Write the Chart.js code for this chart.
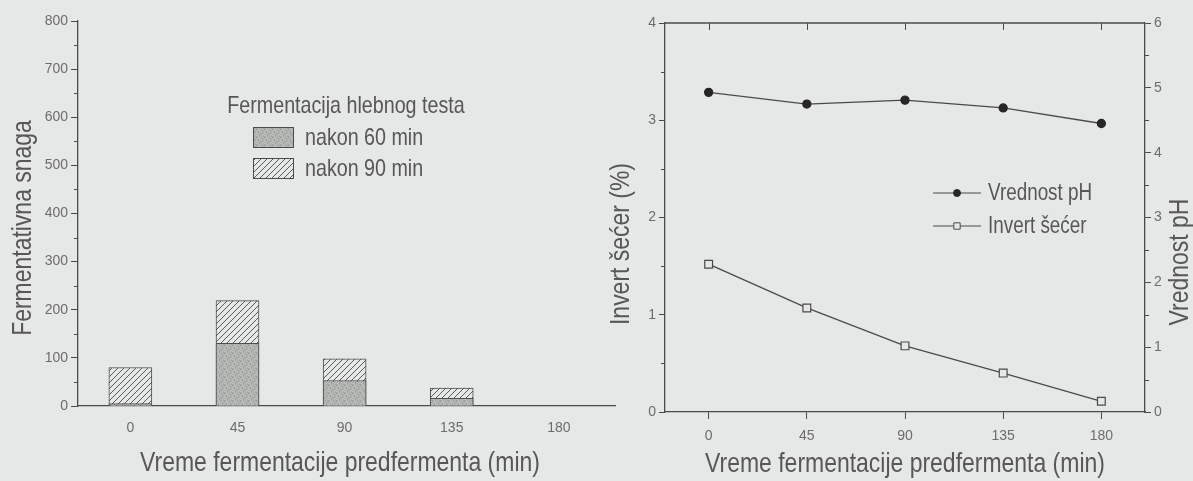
<!DOCTYPE html>
<html>
<head>
<meta charset="utf-8">
<script src="https://cdn.jsdelivr.net/npm/chart.js@4.4.1/dist/chart.umd.min.js"></script>
<style>
  html, body { margin: 0; padding: 0; background: #e5e8e6; }
  #wrap { position: relative; width: 1193px; height: 481px; overflow: hidden; }
  #barChart { position: absolute; left: 0; top: 0; }
  #lineChart { position: absolute; left: 600px; top: 0; }
</style>
</head>
<body>
<div id="wrap">
  <canvas id="barChart" width="616" height="481"></canvas>
  <canvas id="lineChart" width="593" height="481"></canvas>
</div>
<script>
// values
const minutes = [0, 45, 90, 135, 180];
const after60 = [5, 130, 53, 16, 0];      // Fermentativna snaga, nakon 60 min
const after90 = [80, 219, 98, 37, 0];     // Fermentativna snaga, nakon 90 min
const phValue = [4.93, 4.75, 4.81, 4.69, 4.45];
const invertSugar = [1.52, 1.07, 0.68, 0.40, 0.11];

const BG = '#e5e8e6';
const AXIS = '#4a4a4a';
const TEXT = '#575757';
const TICKTXT = '#6c6c6c';

// use the narrow face when it is there, else squeeze the normal one
function hasFont(name) {
    const c = document.createElement('canvas').getContext('2d');
    const s = 'Vreme fermentacije 0123';
    c.font = '40px monospace';
    const a = c.measureText(s).width;
    c.font = `40px "${name}", monospace`;
    return Math.abs(c.measureText(s).width - a) > 0.5;
}
const NARROW = hasFont('Liberation Sans Narrow');
const FAMILY = NARROW ? '"Liberation Sans Narrow", sans-serif' : '"Liberation Sans", Arial, sans-serif';
const SQUEEZE = NARROW ? 1 : 0.82;

// text drawn narrow: rotate first, then squeeze along the writing direction
function narrowText(ctx, text, x, y, size, opts = {}) {
    ctx.save();
    ctx.font = `${size}px ${FAMILY}`;
    ctx.fillStyle = opts.color || TEXT;
    ctx.textAlign = opts.align || 'center';
    ctx.textBaseline = 'middle';
    ctx.translate(x, y);
    if (opts.vertical) ctx.rotate(-Math.PI / 2);
    ctx.scale(SQUEEZE, 1);
    ctx.fillText(text, 0, 0);
    ctx.restore();
}

// bar fills
function hatchPattern() {
    const c = document.createElement('canvas');
    c.width = 6; c.height = 6;
    const g = c.getContext('2d');
    g.fillStyle = BG; g.fillRect(0, 0, 6, 6);
    g.strokeStyle = '#5a5a5a'; g.lineWidth = 1;
    g.beginPath();
    g.moveTo(0, 6); g.lineTo(6, 0);
    g.moveTo(-1, 1); g.lineTo(1, -1);
    g.moveTo(5, 7); g.lineTo(7, 5);
    g.stroke();
    return g.createPattern(c, 'repeat');
}
function stipplePattern() {
    const c = document.createElement('canvas');
    c.width = 8; c.height = 8;
    const g = c.getContext('2d');
    g.fillStyle = '#b3b5b3'; g.fillRect(0, 0, 8, 8);
    for (let i = 0; i < 8; i++) {
        for (let j = 0; j < 8; j++) {
            const h = (i * 7 + j * 13 + i * j * 3) % 9;
            if (h === 0 || h === 4) { g.fillStyle = '#9b9d9b'; g.fillRect(i, j, 1, 1); }
            else if (h === 2) { g.fillStyle = '#c9cbc9'; g.fillRect(i, j, 1, 1); }
        }
    }
    return g.createPattern(c, 'repeat');
}

const minorTicks = {
    id: 'minorTicks',
    afterDraw(chart, args, opts) {
        const ctx = chart.ctx;
        ctx.save();
        ctx.strokeStyle = AXIS;
        ctx.lineWidth = 1;
        (opts.axes || []).forEach(a => {
            const s = chart.scales[a.id];
            const left = s.position === 'left';
            const x0 = left ? s.right : s.left;
            for (let v = s.min + a.step / 2; v < s.max; v += a.step) {
                const y = Math.round(s.getPixelForValue(v)) + 0.5;
                ctx.beginPath();
                ctx.moveTo(x0, y);
                ctx.lineTo(x0 + (left ? -a.len : a.len), y);
                ctx.stroke();
            }
        });
        ctx.restore();
    }
};

const topFrame = {
    id: 'topFrame',
    afterDraw(chart) {
        const { ctx, chartArea } = chart;
        const x = chart.scales.x;
        ctx.save();
        ctx.strokeStyle = AXIS;
        ctx.lineWidth = 1.3;
        ctx.beginPath();
        ctx.moveTo(chartArea.left, chartArea.top);
        ctx.lineTo(chartArea.right, chartArea.top);
        ctx.stroke();
        ctx.lineWidth = 1;
        x.ticks.forEach(t => {
            const px = Math.round(x.getPixelForValue(t.value)) + 0.5;
            ctx.beginPath();
            ctx.moveTo(px, chartArea.top);
            ctx.lineTo(px, chartArea.top + 7);
            ctx.stroke();
        });
        ctx.restore();
    }
};

// axis titles in the scan's tall narrow face
const axisTitles = {
    id: 'axisTitles',
    afterDraw(chart, args, o) {
        o.items.forEach(it => narrowText(chart.ctx, it.text, it.x, it.y, o.size, { vertical: it.vertical }));
    }
};

// legend with a heading and pattern swatches (left plot)
const patternLegend = {
    id: 'patternLegend',
    afterDraw(chart, args, o) {
        const ctx = chart.ctx;
        narrowText(ctx, o.title, o.titleX, o.titleY, o.size);
        chart.data.datasets.forEach((ds, i) => {
            const y = o.rowY[i];
            ctx.save();
            ctx.fillStyle = ds.backgroundColor;
            ctx.fillRect(o.boxX, y - o.boxH / 2, o.boxW, o.boxH);
            ctx.strokeStyle = AXIS;
            ctx.lineWidth = 1;
            ctx.strokeRect(o.boxX + 0.5, y - o.boxH / 2 + 0.5, o.boxW, o.boxH);
            ctx.restore();
            narrowText(ctx, ds.label, o.textX, y + 1, o.size, { align: 'left' });
        });
    }
};

// "—●— label" legend (right plot)
const lineLegend = {
    id: 'lineLegend',
    afterDraw(chart, args, o) {
        const ctx = chart.ctx;
        o.order.forEach((di, row) => {
            const ds = chart.data.datasets[di];
            const y = o.rowY[row];
            ctx.save();
            ctx.strokeStyle = ds.borderColor;
            ctx.lineWidth = 1.2;
            ctx.beginPath();
            ctx.moveTo(o.lineX0, y);
            ctx.lineTo(o.lineX1, y);
            ctx.stroke();
            ctx.fillStyle = ds.pointBackgroundColor;
            ctx.strokeStyle = ds.pointBorderColor;
            ctx.lineWidth = 1;
            Chart.helpers.drawPoint(ctx, { pointStyle: ds.pointStyle, radius: o.radius[row], borderWidth: 1 },
                (o.lineX0 + o.lineX1) / 2, y);
            ctx.restore();
            narrowText(ctx, ds.label, o.textX, y + 1, o.size, { align: 'left' });
        });
    }
};

const tickFont = { family: '"Liberation Sans", Arial, sans-serif', size: 14 };
const xTitle = 'Vreme fermentacije predfermenta (min)';

// left: Fermentativna snaga
new Chart(document.getElementById('barChart'), {
    type: 'bar',
    data: {
        datasets: [
            {
                label: 'nakon 60 min',
                data: minutes.map((m, i) => ({ x: m, y: after60[i] })),
                backgroundColor: stipplePattern(),
                borderColor: '#4d4d4d',
                borderWidth: 1,
                borderSkipped: 'start',
                grouped: false,
                barThickness: 43
            },
            {
                label: 'nakon 90 min',
                data: minutes.map((m, i) => ({ x: m, y: after90[i] })),
                backgroundColor: hatchPattern(),
                borderColor: '#4d4d4d',
                borderWidth: 1,
                borderSkipped: 'start',
                grouped: false,
                barThickness: 43
            }
        ]
    },
    options: {
        responsive: false,
        animation: false,
        layout: { padding: { top: 21, right: 0, bottom: 0, left: 0 } },
        plugins: {
            legend: { display: false },
            tooltip: { enabled: false },
            minorTicks: { axes: [{ id: 'y', step: 100, len: 4 }] },
            axisTitles: {
                size: 28,
                items: [
                    { text: 'Fermentativna snaga', x: 23, y: 228, vertical: true },
                    { text: xTitle, x: 340, y: 463 }
                ]
            },
            patternLegend: {
                title: 'Fermentacija hlebnog testa',
                size: 24,
                titleX: 346, titleY: 106,
                rowY: [137, 168],
                boxX: 253, boxW: 40, boxH: 20,
                textX: 305
            }
        },
        scales: {
            x: {
                type: 'linear',
                offset: false,
                min: -22,
                max: 204,
                afterBuildTicks: s => { s.ticks = minutes.map(v => ({ value: v })); },
                grid: { display: false, drawTicks: false, offset: false },
                border: { color: AXIS, width: 1.3 },
                ticks: { color: TICKTXT, font: tickFont, padding: 14, autoSkip: false, maxRotation: 0 },
                afterFit: s => { s.height = 75; }
            },
            y: {
                min: 0,
                max: 800,
                ticks: { stepSize: 100, color: TICKTXT, font: tickFont, padding: 3 },
                grid: { drawOnChartArea: false, tickLength: 7, color: AXIS },
                border: { color: AXIS, width: 1.3 },
                afterFit: s => { s.width = 78; }
            }
        }
    },
    plugins: [minorTicks, patternLegend, axisTitles]
});

// right: Invert šećer and pH
new Chart(document.getElementById('lineChart'), {
    type: 'line',
    data: {
        datasets: [
            {
                label: 'Vrednost pH',
                data: minutes.map((m, i) => ({ x: m, y: phValue[i] })),
                yAxisID: 'y1',
                borderColor: '#4a4a4a',
                borderWidth: 1.3,
                pointStyle: 'circle',
                pointRadius: 4,
                pointBackgroundColor: '#262626',
                pointBorderColor: '#262626',
                tension: 0
            },
            {
                label: 'Invert šećer',
                data: minutes.map((m, i) => ({ x: m, y: invertSugar[i] })),
                yAxisID: 'y',
                borderColor: '#4a4a4a',
                borderWidth: 1.3,
                pointStyle: 'rect',
                pointRadius: 5.5,
                pointBackgroundColor: BG,
                pointBorderColor: '#4a4a4a',
                pointBorderWidth: 1.2,
                tension: 0
            }
        ]
    },
    options: {
        responsive: false,
        animation: false,
        layout: { padding: { top: 23, right: 0, bottom: 0, left: 0 } },
        plugins: {
            legend: { display: false },
            tooltip: { enabled: false },
            minorTicks: { axes: [{ id: 'y', step: 1, len: 4 }, { id: 'y1', step: 1, len: 4 }] },
            axisTitles: {
                size: 28,
                items: [
                    { text: 'Invert šećer (%)', x: 21, y: 244, vertical: true },
                    { text: 'Vrednost pH', x: 580, y: 262, vertical: true },
                    { text: xTitle, x: 305, y: 464 }
                ]
            },
            lineLegend: {
                order: [0, 1],
                size: 23,
                rowY: [193, 226],
                lineX0: 333, lineX1: 381,
                radius: [3.5, 4.5],
                textX: 388
            }
        },
        scales: {
            x: {
                type: 'linear',
                min: -20,
                max: 200,
                afterBuildTicks: s => { s.ticks = minutes.map(v => ({ value: v })); },
                grid: { drawOnChartArea: false, tickLength: 7, color: AXIS },
                border: { color: AXIS, width: 1.3 },
                ticks: { color: TICKTXT, font: tickFont, padding: 9, autoSkip: false, maxRotation: 0 },
                afterFit: s => { s.height = 69; }
            },
            y: {
                position: 'left',
                min: 0,
                max: 4,
                ticks: { stepSize: 1, color: TICKTXT, font: tickFont, padding: 3 },
                grid: { drawOnChartArea: false, tickLength: 6, color: AXIS },
                border: { color: AXIS, width: 1.3 },
                afterFit: s => { s.width = 65; }
            },
            y1: {
                position: 'right',
                min: 0,
                max: 6,
                ticks: { stepSize: 1, color: TICKTXT, font: tickFont, padding: 3 },
                grid: { drawOnChartArea: false, tickLength: 6, color: AXIS },
                border: { color: AXIS, width: 1.3 },
                afterFit: s => { s.width = 48; }
            }
        }
    },
    plugins: [minorTicks, topFrame, lineLegend, axisTitles]
});
</script>
</body>
</html>
